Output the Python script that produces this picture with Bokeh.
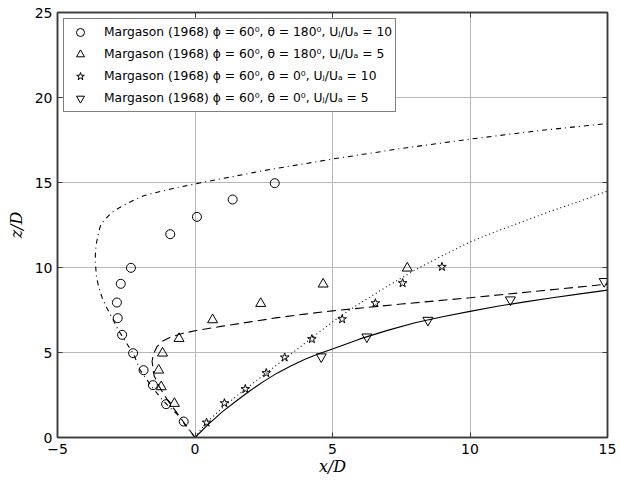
from bokeh.plotting import figure
from bokeh.models import Range1d, LinearAxis, FixedTicker, CustomJSTickFormatter, Legend
from bokeh.embed import file_html
from bokeh.resources import INLINE

# ---- data ----
# Margason (1968) phi=60, theta=180, Uj/Ua=10  (circles)
c_x = [-0.41, -1.05, -1.53, -1.87, -2.25, -2.65, -2.81, -2.84, -2.70, -2.33, -0.90, 0.07, 1.37, 2.90]
c_z = [0.94, 1.96, 3.08, 3.96, 4.96, 6.04, 7.02, 7.94, 9.04, 9.98, 11.96, 12.98, 14.00, 14.96]
# theta=180, Uj/Ua=5 (triangles)
t_x = [-0.75, -1.23, -1.32, -1.18, -0.58, 0.64, 2.39, 4.66, 7.72]
t_z = [2.00, 2.98, 3.96, 4.96, 5.82, 6.92, 7.88, 9.02, 9.96]
# theta=0, Uj/Ua=10 (stars)
s_x = [0.42, 1.07, 1.83, 2.59, 3.26, 4.25, 5.35, 6.56, 7.55, 8.98]
s_z = [0.88, 2.02, 2.85, 3.79, 4.71, 5.79, 6.96, 7.90, 9.08, 10.04]
# theta=0, Uj/Ua=5 (inverted triangles)
v_x = [4.59, 6.25, 8.47, 11.47, 14.88]
v_z = [4.75, 5.92, 6.90, 8.10, 9.18]

# model curves
dd_x = [0, -0.29, -0.65, -1.0, -1.26, -1.62, -1.99, -2.23, -2.55, -2.8, -3.0, -3.2, -3.38, -3.5,
        -3.58, -3.63, -3.62, -3.58, -3.52, -3.44, -3.3, -3.02, -2.75, -2.47, -2.17, -1.87,
        -1.56, -1.26, -0.8, -0.35, 0, 2.5, 5, 7.5, 10, 12.5, 15]
dd_z = [0, 0.59, 1.37, 1.9, 2.35, 3.1, 3.95, 4.9, 5.7, 6.35, 7.0, 7.6, 8.24, 8.85,
        9.41, 10.4, 10.95, 11.47, 11.95, 12.45, 12.8, 13.24, 13.52, 13.76, 14.0, 14.22,
        14.36, 14.47, 14.65, 14.8, 14.92, 15.7, 16.38, 17.0, 17.55, 18.05, 18.47]
da_x = [0, -0.5, -1.0, -1.3, -1.48, -1.53, -1.56, -1.5, -1.38, -1.2, -0.9, -0.47, 0.13,
        1.0, 2.0, 3.0, 4.0, 5.0, 7.5, 10, 12.5, 15]
da_z = [0, 1.1, 2.2, 3.0, 3.6, 4.0, 4.5, 4.95, 5.35, 5.65, 5.9, 6.12, 6.32,
        6.55, 6.8, 7.05, 7.26, 7.45, 7.85, 8.22, 8.62, 9.02]
dt_x = [0, 0.25, 0.5, 1, 1.5, 2, 2.5, 3, 3.5, 4, 4.5, 5, 5.5, 6, 6.5, 7, 7.5, 8, 8.5, 9, 9.5,
        10, 11, 12, 13, 14, 15]
dt_z = [0, 0.55, 1.0, 1.75, 2.42, 3.05, 3.68, 4.3, 4.92, 5.55, 6.18, 6.8, 7.37, 7.9, 8.4,
        8.9, 9.38, 9.85, 10.28, 10.7, 11.1, 11.5, 12.15, 12.75, 13.35, 13.9, 14.5]
so_x = [0, 0.5, 1, 1.5, 2, 2.5, 3, 3.5, 4, 4.5, 5, 6, 7, 8, 9, 10, 11, 12, 13, 14, 15]
so_z = [0, 0.8, 1.52, 2.15, 2.75, 3.3, 3.8, 4.22, 4.6, 4.93, 5.2, 5.8, 6.3, 6.75, 7.1,
        7.42, 7.72, 7.98, 8.22, 8.45, 8.67]

labels = [
    "Margason (1968) \u03d5 = 60\u2070, \u03b8 = 180\u2070, U\u2c7c/U\u2090 = 10",
    "Margason (1968) \u03d5 = 60\u2070, \u03b8 = 180\u2070, U\u2c7c/U\u2090 = 5",
    "Margason (1968) \u03d5 = 60\u2070, \u03b8 = 0\u2070, U\u2c7c/U\u2090 = 10",
    "Margason (1968) \u03d5 = 60\u2070, \u03b8 = 0\u2070, U\u2c7c/U\u2090 = 5",
]

x_ticks = [-5, 0, 5, 10, 15]
y_ticks = [0, 5, 10, 15, 20, 25]

FRAME = "#3a3a3a"
GRID = "#b8b8b8"

p = figure(width=620, height=484, x_range=Range1d(-5, 15), y_range=Range1d(0, 25),
           output_backend="svg", toolbar_location=None,
           min_border_left=57, min_border_right=13, min_border_top=12, min_border_bottom=47)
p.background_fill_color = "white"
p.border_fill_color = "white"
p.outline_line_color = FRAME
p.outline_line_width = 1.5

for ax, ticks in ((p.xaxis[0], x_ticks), (p.yaxis[0], y_ticks)):
    ax.ticker = FixedTicker(ticks=ticks)
    ax.major_tick_in = 5
    ax.major_tick_out = 0
    ax.minor_tick_line_color = None
    ax.major_tick_line_color = FRAME
    ax.axis_line_color = FRAME
    ax.axis_line_width = 1.5
    ax.major_label_text_font = "DejaVu Sans"
    ax.major_label_text_font_size = "14px"
    ax.major_label_text_color = "black"
    ax.axis_label_text_font = "DejaVu Serif"
    ax.axis_label_text_font_style = "italic"
    ax.axis_label_text_font_size = "16px"
    ax.axis_label_text_color = "black"

p.xaxis[0].major_label_overrides = {-5: "\u22125"}
p.xaxis[0].axis_label = "x/D"
p.yaxis[0].axis_label = "z/D"
p.xaxis[0].major_label_standoff = 6
p.xaxis[0].axis_label_standoff = 0
p.yaxis[0].major_label_standoff = 5
p.yaxis[0].axis_label_standoff = 6

blank = CustomJSTickFormatter(code="return '';")
for loc, ticks in (("right", y_ticks), ("above", x_ticks)):
    a = LinearAxis(ticker=FixedTicker(ticks=ticks), formatter=blank,
                   major_tick_in=5, major_tick_out=0, minor_tick_line_color=None,
                   major_tick_line_color=FRAME, axis_line_color=FRAME, axis_line_width=1.5,
                   major_label_standoff=0, major_label_text_font_size="1px")
    p.add_layout(a, loc)

p.xgrid.ticker = FixedTicker(ticks=x_ticks)
p.ygrid.ticker = FixedTicker(ticks=y_ticks)
p.xgrid.grid_line_color = GRID
p.ygrid.grid_line_color = GRID
p.xgrid.grid_line_width = 1
p.ygrid.grid_line_width = 1

# curves
p.line(dd_x, dd_z, line_color="black", line_width=1.1, line_dash="5 4 1 4")
p.line(da_x, da_z, line_color="black", line_width=1.1, line_dash="9 5")
p.line(dt_x, dt_z, line_color="black", line_width=1.1, line_dash="1 3")
p.line(so_x, so_z, line_color="black", line_width=1.1)

r1 = p.scatter(c_x, c_z, marker="circle", size=9, fill_color=None, line_color="black", line_width=1)
r2 = p.scatter(t_x, t_z, marker="triangle", size=10, fill_color=None, line_color="black", line_width=1)
r3 = p.scatter(s_x, s_z, marker="star", size=9, fill_color=None, line_color="black", line_width=1)
r4 = p.scatter(v_x, v_z, marker="inverted_triangle", size=10, fill_color=None, line_color="black", line_width=1)

legend = Legend(items=[(labels[0], [r1]), (labels[1], [r2]), (labels[2], [r3]), (labels[3], [r4])],
                location="top_left", margin=6, padding=3, spacing=2,
                glyph_width=26, glyph_height=20, label_height=20, label_standoff=11,
                label_text_font="DejaVu Sans", label_text_font_size="12.3px", label_text_color="black",
                border_line_color="black", border_line_width=1,
                background_fill_color="white", background_fill_alpha=1.0)
p.add_layout(legend)

open("out.html", "w").write(file_html(p, INLINE))
